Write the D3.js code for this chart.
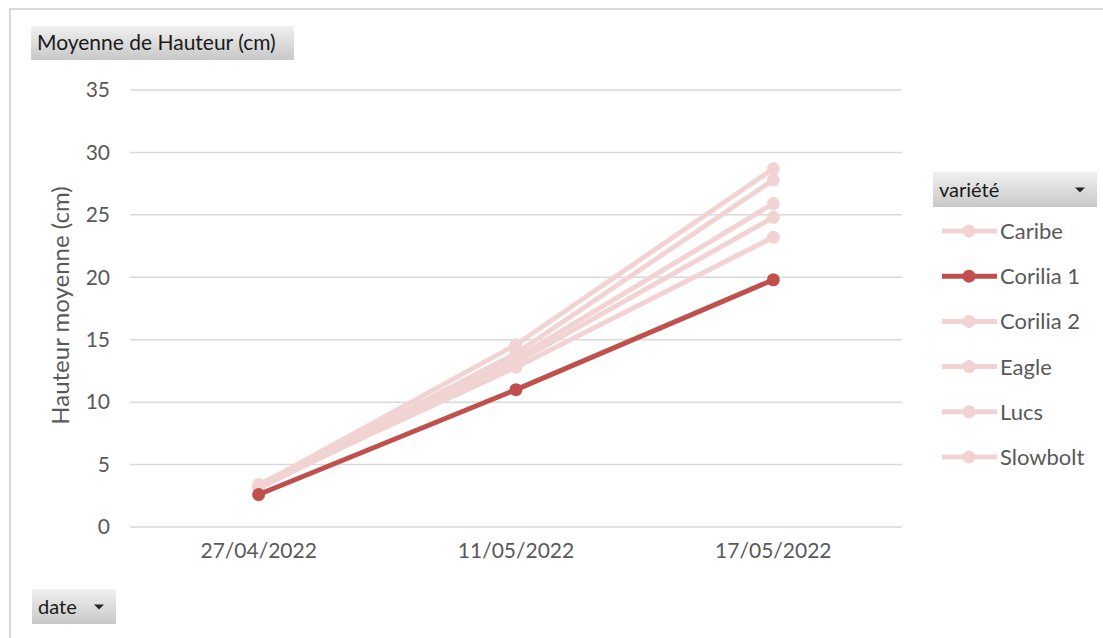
<!DOCTYPE html>
<html>
<head>
<meta charset="utf-8">
<script src="https://cdn.jsdelivr.net/npm/d3@7/dist/d3.min.js"></script>
<style>
  body { margin: 0; background: #fff; }
  text { font-family: Lato, "Open Sans", sans-serif; }
</style>
</head>
<body>
<div id="chart"></div>
<script>
var dates = ['27/04/2022', '11/05/2022', '17/05/2022']
var varieties = ['Caribe', 'Corilia 1', 'Corilia 2', 'Eagle', 'Lucs', 'Slowbolt']
var caribe = [3.3, 14.6, 28.7]
var corilia1 = [2.6, 11.0, 19.8]
var corilia2 = [3.2, 13.9, 27.8]
var eagle = [3.4, 13.5, 25.9]
var lucs = [3.1, 13.2, 24.8]
var slowbolt = [3.3, 12.8, 23.2]
var yTicks = [0, 5, 10, 15, 20, 25, 30, 35]

var seriesValues = [caribe, corilia1, corilia2, eagle, lucs, slowbolt]
var series = varieties.map(function(v, i) {
    return { name: v, values: seriesValues[i].map(function(d, j) { return { date: dates[j], value: d } }) }
})

var W = 1103, H = 638
var margin = { top: 90, left: 130, right: 201, bottom: 111 }
var width = W - margin.left - margin.right
var height = H - margin.top - margin.bottom

var light = '#f2d3d3', dark = '#c0504d'
function colorOf(name) { return name === 'Corilia 1' ? dark : light }

var svg = d3.select('#chart').append('svg')
    .attr('width', W).attr('height', H)

var defs = svg.append('defs')
var grad = defs.append('linearGradient').attr('id', 'btn').attr('x1', 0).attr('y1', 0).attr('x2', 0).attr('y2', 1)
grad.append('stop').attr('offset', '0%').attr('stop-color', '#f0f0f0')
grad.append('stop').attr('offset', '100%').attr('stop-color', '#c8c8c8')

// outer chart border
svg.append('rect')
    .attr('x', 10).attr('y', 9).attr('width', W + 10).attr('height', H + 10)
    .attr('fill', 'none').attr('stroke', '#d9d9d9').attr('stroke-width', 2)

var x = d3.scaleBand().domain(dates).range([0, width])
var y = d3.scaleLinear().domain([0, 35]).range([height, 0])

var g = svg.append('g').attr('transform', 'translate(' + margin.left + ',' + margin.top + ')')

// gridlines
g.selectAll('.grid').data(yTicks).enter().append('line')
    .attr('x1', 0).attr('x2', width)
    .attr('y1', function(d) { return y(d) }).attr('y2', function(d) { return y(d) })
    .attr('stroke', '#d9d9d9').attr('stroke-width', 1.5)

var yAxis = d3.axisLeft(y).tickValues(yTicks).tickSize(0).tickPadding(20)
g.append('g').attr('class', 'yAxis').call(yAxis)
    .call(function(a) { a.select('.domain').remove() })
    .selectAll('text').attr('fill', '#595959').style('font-size', '21px')

var xAxis = d3.axisBottom(x).tickSize(0).tickPadding(16)
g.append('g').attr('class', 'xAxis').attr('transform', 'translate(0,' + height + ')').call(xAxis)
    .call(function(a) { a.select('.domain').remove() })
    .selectAll('text').attr('fill', '#595959').style('font-size', '21px')

g.append('text')
    .attr('transform', 'translate(' + (-61) + ',' + (height / 2 - 3) + ') rotate(-90)')
    .attr('text-anchor', 'middle')
    .attr('fill', '#595959')
    .style('font-size', '24px')
    .text('Hauteur moyenne (cm)')

var line = d3.line()
    .x(function(d) { return x(d.date) + x.bandwidth() / 2 })
    .y(function(d) { return y(d.value) })

// light series first, highlighted series on top
var ordered = series.filter(function(d) { return d.name !== 'Corilia 1' })
    .concat(series.filter(function(d) { return d.name === 'Corilia 1' }))

var s = g.selectAll('.serie').data(ordered).enter().append('g').attr('class', 'serie')
s.append('path')
    .attr('d', function(d) { return line(d.values) })
    .attr('fill', 'none')
    .attr('stroke', function(d) { return colorOf(d.name) })
    .attr('stroke-width', 5)
    .attr('stroke-linecap', 'round')
s.selectAll('circle').data(function(d) { return d.values.map(function(v) { return { name: d.name, date: v.date, value: v.value } }) })
    .enter().append('circle')
    .attr('cx', function(d) { return x(d.date) + x.bandwidth() / 2 })
    .attr('cy', function(d) { return y(d.value) })
    .attr('r', 6.5)
    .attr('fill', function(d) { return colorOf(d.name) })

// field buttons
function button(bx, by, bw, bh, label, arrow, fs) {
    svg.append('rect').attr('x', bx).attr('y', by).attr('width', bw).attr('height', bh)
        .attr('fill', 'url(#btn)')
    svg.append('text').attr('x', bx + 6).attr('y', by + bh / 2 + 7)
        .attr('fill', '#1a1a1a').style('font-size', fs + 'px').text(label)
    if (arrow) {
        var ax = bx + bw - 17, ay = by + bh / 2 - 2
        svg.append('path').attr('d', 'M' + (ax - 5) + ',' + ay + 'L' + (ax + 5) + ',' + ay + 'L' + ax + ',' + (ay + 5) + 'Z')
            .attr('fill', '#262626')
    }
}
button(31, 26, 263, 34, 'Moyenne de Hauteur (cm)', false, 21)
button(933, 172, 164, 35, 'variété', true, 20)
button(32, 589, 84, 35, 'date', true, 20)

// legend
var legend = svg.append('g').attr('transform', 'translate(942,231)')
var item = legend.selectAll('.item').data(series).enter().append('g')
    .attr('transform', function(d, i) { return 'translate(0,' + (i * 45.2) + ')' })
item.append('line').attr('x1', 0).attr('x2', 55).attr('y1', 0).attr('y2', 0)
    .attr('stroke', function(d) { return colorOf(d.name) }).attr('stroke-width', 5)
item.append('circle').attr('cx', 27).attr('cy', 0).attr('r', 6.5)
    .attr('fill', function(d) { return colorOf(d.name) })
item.append('text').attr('x', 58).attr('y', 8)
    .attr('fill', '#595959').style('font-size', '22px')
    .text(function(d) { return d.name })
</script>
</body>
</html>
